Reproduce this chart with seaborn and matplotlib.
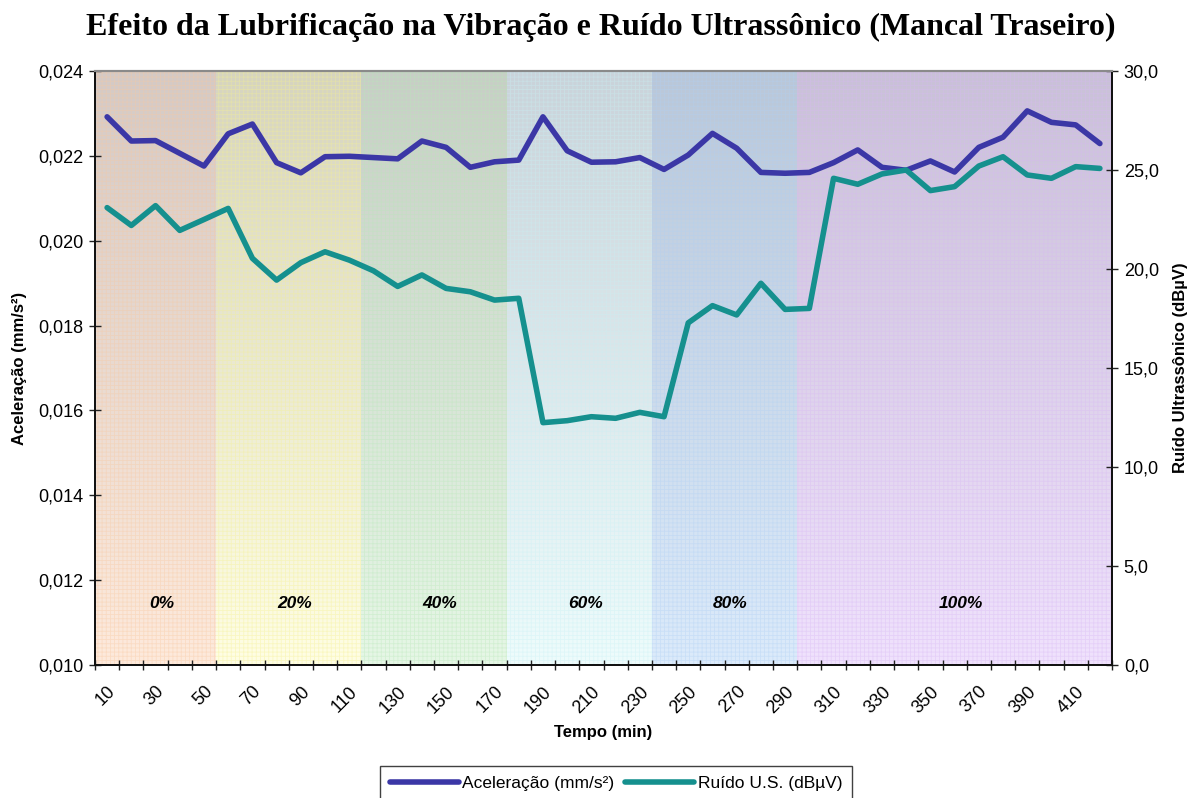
import numpy as np
import matplotlib
matplotlib.use("Agg")
import matplotlib.pyplot as plt
from matplotlib.lines import Line2D
from matplotlib.colors import to_rgb
import seaborn as sns

# Time stamps (min) of each reading
tempo = [10, 20, 30, 40, 50, 60, 70, 80, 90, 100, 110, 120, 130, 140,
         150, 160, 170, 180, 190, 200, 210, 220, 230, 240, 250, 260, 270,
         280, 290, 300, 310, 320, 330, 340, 350, 360, 370, 380, 390, 400,
         410, 420]

# Vibration acceleration (mm/s²)
aceleracao = [0.02292, 0.02235, 0.02236, 0.02206, 0.02176, 0.02252, 0.02275,
              0.02184, 0.02160, 0.02198, 0.02199, 0.02196, 0.02193, 0.02235,
              0.02220, 0.02173, 0.02186, 0.02190, 0.02292, 0.02212, 0.02185,
              0.02186, 0.02196, 0.02168, 0.02202, 0.02253, 0.02218, 0.02161,
              0.02159, 0.02161, 0.02184, 0.02214, 0.02173, 0.02166, 0.02188,
              0.02162, 0.02220, 0.02244, 0.02306, 0.02279, 0.02273, 0.02229]

# Ultrasonic noise (dBµV)
ruido = [23.1, 22.2, 23.2, 21.95, 22.5, 23.06, 20.54, 19.44, 20.32, 20.87,
         20.45, 19.91, 19.12, 19.7, 19.02, 18.85, 18.43, 18.52, 12.24, 12.34,
         12.54, 12.46, 12.76, 12.54, 17.28, 18.15, 17.68, 19.28, 17.96, 18.01,
         24.58, 24.28, 24.8, 25.0, 23.96, 24.16, 25.2, 25.67, 24.75, 24.58,
         25.17, 25.08]

# Lubrication stages: label, number of readings in each stage
estagios = ["0%", "20%", "40%", "60%", "80%", "100%"]
leituras_por_estagio = [5, 6, 6, 6, 6, 13]
cor_base = ["#feeadc", "#fffee4", "#e6f7e6", "#eefcfc", "#dcebfb", "#f0e2fd"]
cor_topo = ["#d4cac6", "#d6d4c0", "#c8cec6", "#cad3da", "#bac7d8", "#c9c1d7"]
cor_trama = ["#f8c8a0", "#f4f090", "#b8e8b8", "#c8f0f4", "#b0d0f4", "#d8b8f4"]

acel_ticks = [0.010, 0.012, 0.014, 0.016, 0.018, 0.020, 0.022, 0.024]
ruido_ticks = [0.0, 5.0, 10.0, 15.0, 20.0, 25.0, 30.0]

cor_acel = "#3b37a6"
cor_ruido = "#15908e"

sns.set_theme(style="white")
plt.rcParams["font.family"] = ["Liberation Sans", "DejaVu Sans"]
plt.rcParams["hatch.linewidth"] = 0.6
for chave in ("text.color", "axes.labelcolor", "xtick.color", "ytick.color"):
    plt.rcParams[chave] = "#000000"

fig = plt.figure(figsize=(11.92, 7.98), dpi=100)
ax = fig.add_axes([95 / 1192, 133 / 798, 1017 / 1192, 594 / 798])
ax2 = ax.twinx()

pos = np.arange(len(tempo))
ymin, ymax = acel_ticks[0], acel_ticks[-1]

# Stage backgrounds: vertical gradient (grey on top, pastel below) with a fine grid texture
inicio = -0.5
for nome, n, cb, ct, cg in zip(estagios, leituras_por_estagio, cor_base, cor_topo, cor_trama):
    fim = inicio + n
    t = np.linspace(0, 1, 256)[:, None]
    grad = (1 - t) * np.array(to_rgb(ct)) + t * np.array(to_rgb(cb))
    ax.imshow(grad[:, None, :].repeat(2, axis=1), extent=(inicio, fim, ymin, ymax),
              origin="upper", aspect="auto", zorder=0, interpolation="bilinear")
    ax.fill_between([inicio, fim], ymin, ymax, facecolor="none",
                    edgecolor=cg, hatch="++++", linewidth=0, zorder=0.5, alpha=0.4)
    ax.text((inicio + fim) / 2 + 0.25, 0.104, nome, transform=ax.get_xaxis_transform(),
            ha="center", va="center", fontsize=12.5, fontweight="bold",
            fontstyle="italic", color="#000000", zorder=3)
    inicio = fim

sns.lineplot(x=pos, y=aceleracao, ax=ax, color=cor_acel, linewidth=4.0, zorder=4)
sns.lineplot(x=pos, y=ruido, ax=ax2, color=cor_ruido, linewidth=4.0, zorder=4)

ax.set_xlim(-0.5, len(tempo) - 0.5)
ax.set_ylim(ymin, ymax)
ax2.set_ylim(ruido_ticks[0], ruido_ticks[-1])

# Category axis: labels every other reading, ticks on category boundaries
ax.set_xticks(pos[::2])
ax.set_xticklabels([str(v) for v in tempo[::2]], rotation=45, ha="right",
                   rotation_mode="anchor", fontsize=13)
ax.set_xticks(np.arange(-0.5, len(tempo)), minor=True)
ax.tick_params(axis="x", which="major", length=0, pad=13)
ax.tick_params(axis="x", which="minor", length=7, width=1, direction="inout",
               color="#222222", bottom=True)

ax.set_yticks(acel_ticks)
ax.set_yticklabels([f"{v:.3f}".replace(".", ",") for v in acel_ticks], fontsize=13)
ax.tick_params(axis="y", length=9, width=1, direction="inout", color="#222222",
               left=True, pad=4)
ax2.set_yticks(ruido_ticks)
ax2.set_yticklabels([f"{v:.1f}".replace(".", ",") for v in ruido_ticks], fontsize=13)
ax2.tick_params(axis="y", length=9, width=1, direction="inout", color="#222222",
                right=True, pad=4)
ax.grid(False)
ax2.grid(False)

ax.set_xlabel("Tempo (min)", fontsize=12, fontweight="bold", labelpad=6)
ax.set_ylabel("Aceleração (mm/s²)", fontsize=12, fontweight="bold", labelpad=8)
ax2.set_ylabel("Ruído Ultrassônico (dBµV)", fontsize=12, fontweight="bold", labelpad=10)

for a in (ax, ax2):
    for s in ("left", "right", "bottom"):
        a.spines[s].set_color("#111111")
        a.spines[s].set_linewidth(1.3)
    a.spines["top"].set_color("#8a8a8a")
    a.spines["top"].set_linewidth(1.5)

fig.suptitle("Efeito da Lubrificação na Vibração e Ruído Ultrassônico (Mancal Traseiro)",
             x=601 / 1192, y=1 - 27 / 798, va="center", fontsize=23,
             fontweight="bold", family=["Liberation Serif", "DejaVu Serif"])

handles = [Line2D([], [], color=cor_acel, lw=4.0),
           Line2D([], [], color=cor_ruido, lw=4.0)]
leg = fig.legend(handles, ["Aceleração (mm/s²)", "Ruído U.S. (dBµV)"],
                 loc="lower center", bbox_to_anchor=(616 / 1192, -0.014), ncol=2,
                 frameon=True, fancybox=False, edgecolor="#111111", fontsize=12.5,
                 handlelength=4.0, handletextpad=0.2, columnspacing=0.6,
                 borderpad=0.55)
leg.get_frame().set_linewidth(1.0)

fig.savefig("out.png", dpi=100, facecolor="white")
